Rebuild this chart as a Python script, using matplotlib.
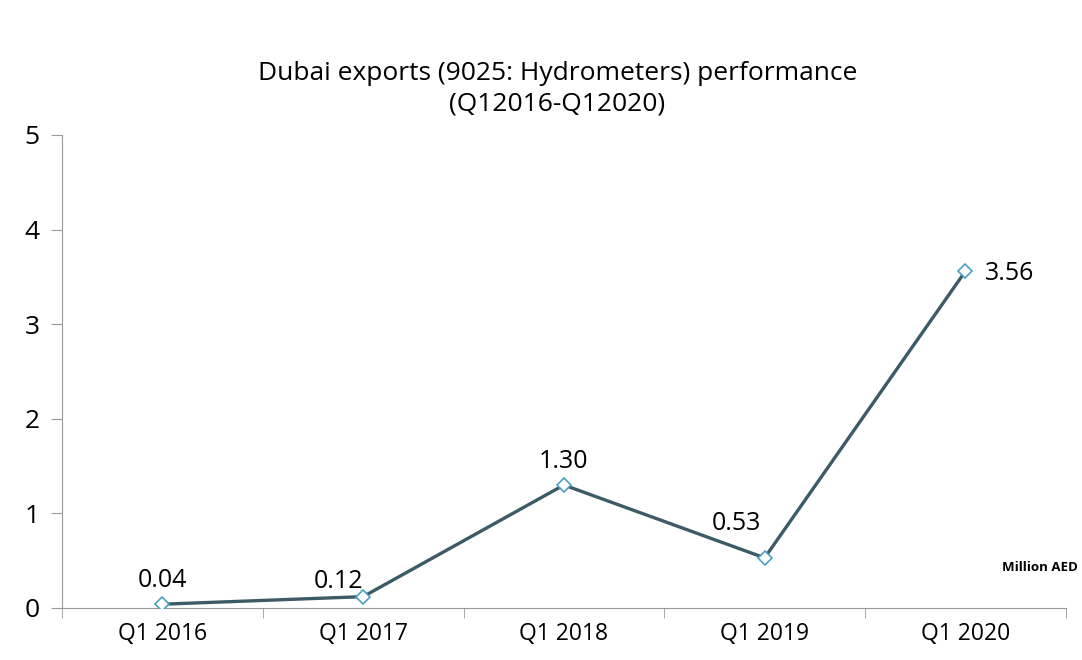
import matplotlib.pyplot as plt
import numpy as np

plt.rcParams['font.family'] = ['Open Sans', 'DejaVu Sans']

quarters = ['Q1 2016', 'Q1 2017', 'Q1 2018', 'Q1 2019', 'Q1 2020']
values = [0.04, 0.12, 1.30, 0.53, 3.56]
labels = ['0.04', '0.12', '1.30', '0.53', '3.56']

fig = plt.figure(figsize=(10.82, 6.6), dpi=100)
ax = fig.add_axes([0.0573, 0.0788, 0.9277, 0.7167])

x = np.arange(len(quarters))
ax.plot(x, values, color='#3d5b66', lw=2.4, marker='D', ms=7,
        mfc='white', mec='#4a9fc4', mew=1.2, zorder=3)

# label offsets in points, like the original chart
offsets = [(0, 8, 'center'), (-18, 2, 'center'), (0, 8, 'center'),
           (-20, 16, 'center'), (14, -2, 'left')]
for xi, v, t, (dx, dy, ha) in zip(x, values, labels, offsets):
    ax.annotate(t, (xi, v), xytext=(dx, dy), textcoords='offset points',
                ha=ha, va='bottom' if dy > 0 else 'center', fontsize=18)

ax.set_xlim(-0.5, len(quarters) - 0.5)
ax.set_ylim(0, 5)
ax.set_yticks(range(6))
ax.set_xticks(x)
ax.set_xticklabels(quarters)
ax.set_xticks(np.arange(-0.5, len(quarters)), minor=True)
ax.tick_params(axis='x', which='major', length=0, labelsize=16.5, pad=10)
ax.tick_params(axis='x', which='minor', length=7, color='#999999')
ax.tick_params(axis='y', length=8, color='#999999', labelsize=19, pad=8)

for s in ['top', 'right']:
    ax.spines[s].set_visible(False)
for s in ['left', 'bottom']:
    ax.spines[s].set_color('#999999')

fig.text(0.515, 0.865, 'Dubai exports (9025: Hydrometers) performance\n(Q12016-Q12020)',
         ha='center', va='center', fontsize=19, linespacing=1.3)
fig.text(0.996, 0.14, 'Million AED', ha='right', va='center',
         fontsize=9.5, fontweight='bold')

fig.savefig('out.png', dpi=100)
